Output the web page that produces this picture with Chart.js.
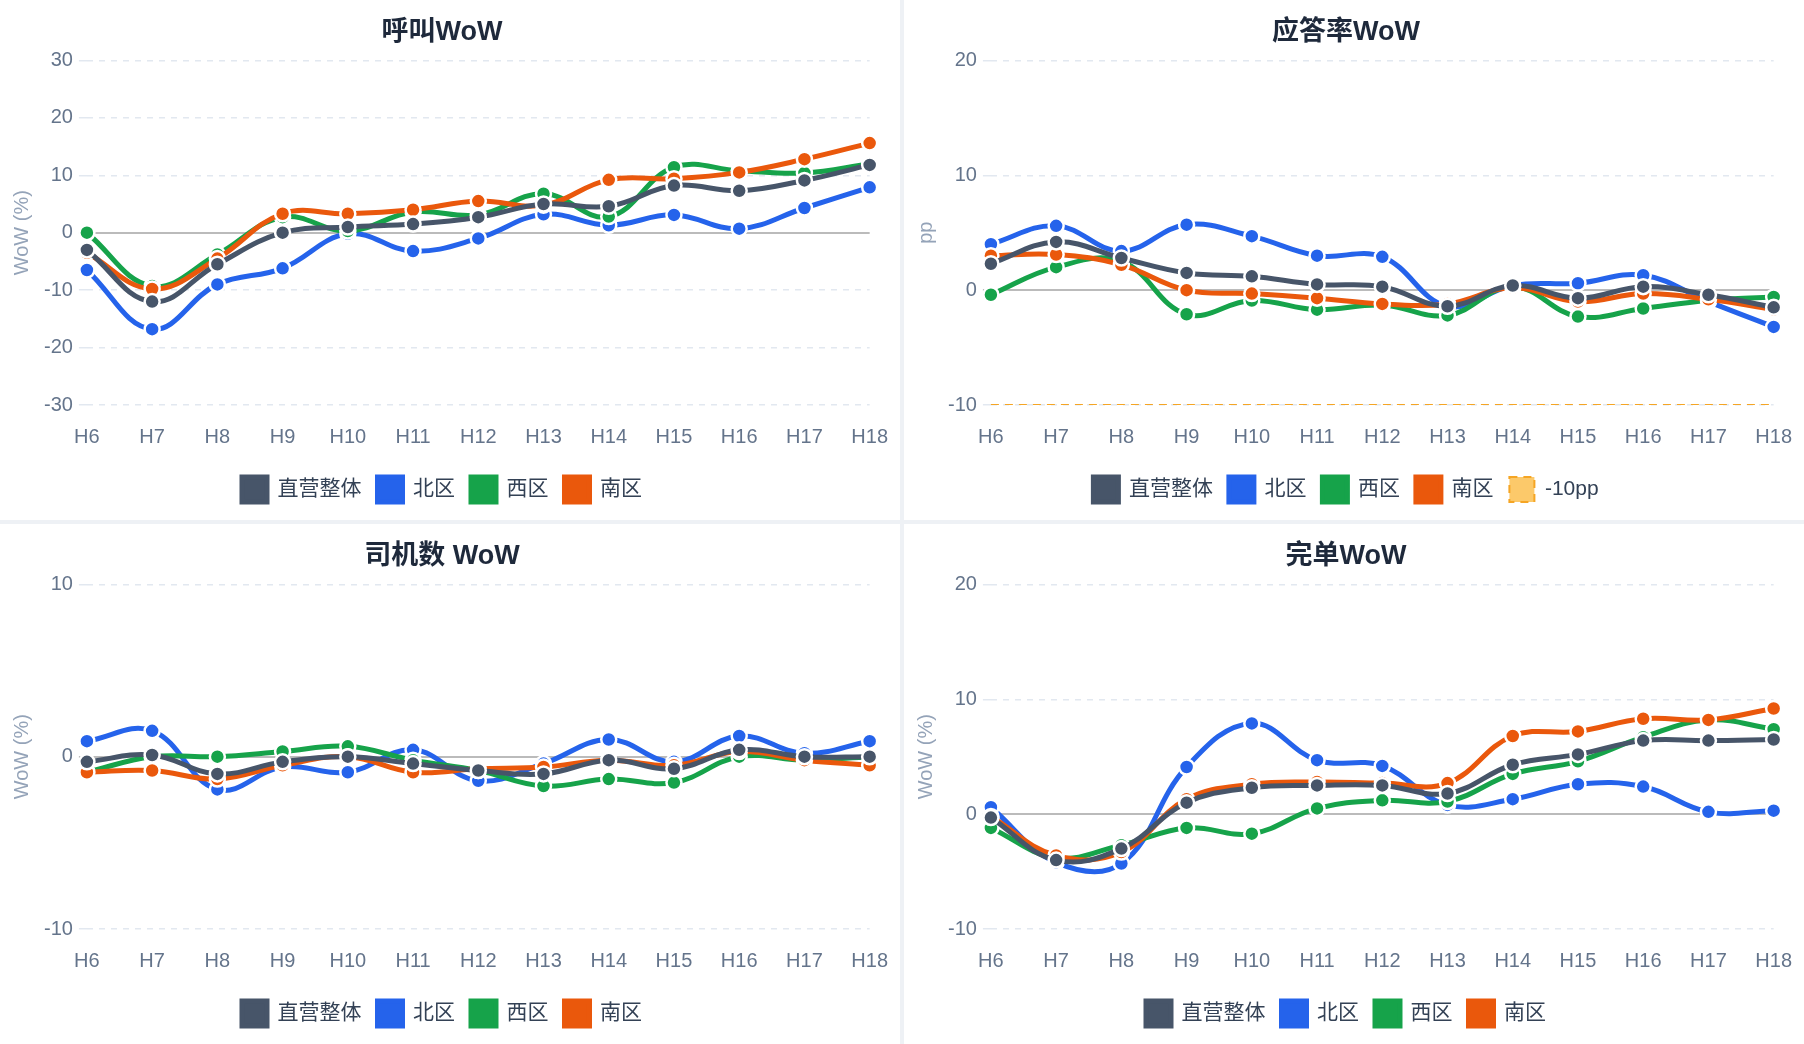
<!DOCTYPE html>
<html>
<head>
<meta charset="utf-8">
<script src="https://cdn.jsdelivr.net/npm/chart.js@4"></script>
<style>
  html, body { margin: 0; padding: 0; background: #fff; }
  body { width: 1804px; height: 1044px; display: grid; grid-template-columns: 1fr 1fr; grid-template-rows: 1fr 1fr; gap: 4px; background: #eef1f5; font-family: "Liberation Sans", "Noto Sans CJK SC", sans-serif; }
  .cell { background: #fff; position: relative; }
  canvas { position: absolute; left: 0; top: 0; }
</style>
</head>
<body>
<div class="cell"><canvas id="c1"></canvas></div>
<div class="cell"><canvas id="c2"></canvas></div>
<div class="cell"><canvas id="c3"></canvas></div>
<div class="cell"><canvas id="c4"></canvas></div>
<script>
const hours = ['H6','H7','H8','H9','H10','H11','H12','H13','H14','H15','H16','H17','H18'];
const seriesNames = ['直营整体', '北区', '西区', '南区'];
const colors = ['#475569', '#2563eb', '#16a34a', '#ea580c'];

// 呼叫WoW
const callTotal = [-3, -12, -5.5, 0, 1, 1.5, 2.7, 5, 4.6, 8.2, 7.3, 9.1, 11.8];
const callNorth = [-6.5, -16.8, -9, -6.2, -0.2, -3.2, -1, 3.2, 1.3, 3.1, 0.7, 4.3, 7.9];
const callWest = [0, -9.3, -3.8, 2.7, 0.3, 3.6, 3.1, 6.8, 2.8, 11.4, 10.8, 10.4, 12];
const callSouth = [-3.5, -9.8, -4.5, 3.3, 3.3, 4, 5.5, 4.8, 9.2, 9.4, 10.5, 12.8, 15.6];

// 应答率WoW (pp)
const ansTotal = [2.3, 4.2, 2.8, 1.5, 1.2, 0.5, 0.3, -1.4, 0.4, -0.7, 0.3, -0.4, -1.5];
const ansNorth = [4, 5.6, 3.4, 5.7, 4.7, 3, 2.9, -1.4, 0.4, 0.6, 1.3, -1, -3.2];
const ansWest = [-0.4, 2, 2.5, -2.1, -0.9, -1.7, -1.3, -2.2, 0.3, -2.3, -1.6, -0.9, -0.6];
const ansSouth = [3, 3.1, 2.2, 0, -0.3, -0.7, -1.2, -1.2, 0.2, -1, -0.3, -0.8, -1.7];
const ansLimit = -10;

// 司机数 WoW
const drvTotal = [-0.3, 0.1, -1, -0.3, 0, -0.4, -0.8, -1, -0.2, -0.7, 0.4, 0, 0];
const drvNorth = [0.9, 1.5, -1.9, -0.6, -0.9, 0.4, -1.4, -0.4, 1, -0.3, 1.2, 0.2, 0.9];
const drvWest = [-0.9, 0, 0, 0.3, 0.6, -0.2, -0.8, -1.7, -1.3, -1.5, 0, -0.2, 0];
const drvSouth = [-0.9, -0.8, -1.3, -0.5, 0, -0.9, -0.7, -0.6, -0.2, -0.5, 0.3, -0.2, -0.5];

// 完单WoW
const ordTotal = [-0.3, -4, -3, 1, 2.3, 2.5, 2.5, 1.8, 4.3, 5.2, 6.4, 6.4, 6.5];
const ordNorth = [0.6, -4.2, -4.3, 4.1, 7.9, 4.7, 4.2, 0.8, 1.3, 2.6, 2.4, 0.2, 0.3];
const ordWest = [-1.2, -3.8, -2.7, -1.2, -1.7, 0.5, 1.2, 1.1, 3.5, 4.6, 6.7, 8.2, 7.4];
const ordSouth = [-0.2, -3.6, -3.3, 1.3, 2.6, 2.8, 2.7, 2.7, 6.8, 7.2, 8.3, 8.2, 9.2];

const FONT = '"Liberation Sans", "Noto Sans CJK SC", sans-serif';

function lineSet(i, data) {
  return {
    label: seriesNames[i], data: data,
    borderColor: colors[i], backgroundColor: colors[i],
    borderWidth: 5, tension: 0.4,
    pointRadius: 7.5, pointBorderColor: '#fff', pointBorderWidth: 2.5,
    order: i === 0 ? 0 : 4 - i
  };
}

function makeChart(id, title, seriesList, yTitle, min, max, step, extra) {
  const cv = document.getElementById(id);
  const cell = cv.parentNode;
  cv.width = cell.clientWidth; cv.height = cell.clientHeight;
  const datasets = seriesList.map((d, i) => lineSet(i, d));
  if (extra) datasets.push(extra);
  new Chart(cv, {
    type: 'line',
    data: { labels: hours, datasets: datasets },
    options: {
      responsive: false, animation: false,
      layout: { padding: { left: 6, right: 22, top: 6, bottom: 8 } },
      plugins: {
        title: { display: true, text: title, color: '#1e293b', font: { size: 27, weight: 'bold', family: FONT }, padding: { top: 10, bottom: 12 } },
        legend: {
          position: 'bottom',
          labels: {
            sort: (a, b) => a.datasetIndex - b.datasetIndex,
            boxWidth: 25, boxHeight: 25, padding: 16, color: '#334155',
            font: { size: 21, family: FONT }
          }
        }
      },
      scales: {
        x: {
          offset: false,
          grid: { display: false }, border: { display: false },
          ticks: { color: '#64748b', font: { size: 20, family: FONT }, padding: 12 },
          afterFit: s => { s.paddingLeft = 30; }
        },
        y: {
          min: min, max: max,
          ticks: { stepSize: step, color: '#64748b', font: { size: 20, family: FONT }, padding: 6 },
          border: { display: false, dash: c => c.tick && c.tick.value === 0 ? [] : [6, 6] },
          grid: {
            color: c => c.tick.value === 0 ? '#bbbbbb' : '#e2e8f0',
            lineWidth: c => c.tick.value === 0 ? 2 : 1.5,
            tickLength: 8
          },
          title: { display: true, text: yTitle, color: '#94a3b8', font: { size: 20, family: FONT } }
        }
      }
    }
  });
}

makeChart('c1', '呼叫WoW', [callTotal, callNorth, callWest, callSouth], 'WoW (%)', -30, 30, 10);
makeChart('c2', '应答率WoW', [ansTotal, ansNorth, ansWest, ansSouth], 'pp', -10, 20, 10, {
  label: '-10pp', data: hours.map(() => ansLimit),
  borderColor: '#f5a524', backgroundColor: 'rgba(251,191,80,0.85)', borderWidth: 2,
  borderDash: [8, 6], pointRadius: 0, fill: false, order: 10
});
makeChart('c3', '司机数 WoW', [drvTotal, drvNorth, drvWest, drvSouth], 'WoW (%)', -10, 10, 10);
makeChart('c4', '完单WoW', [ordTotal, ordNorth, ordWest, ordSouth], 'WoW (%)', -10, 20, 10);
</script>
</body>
</html>
